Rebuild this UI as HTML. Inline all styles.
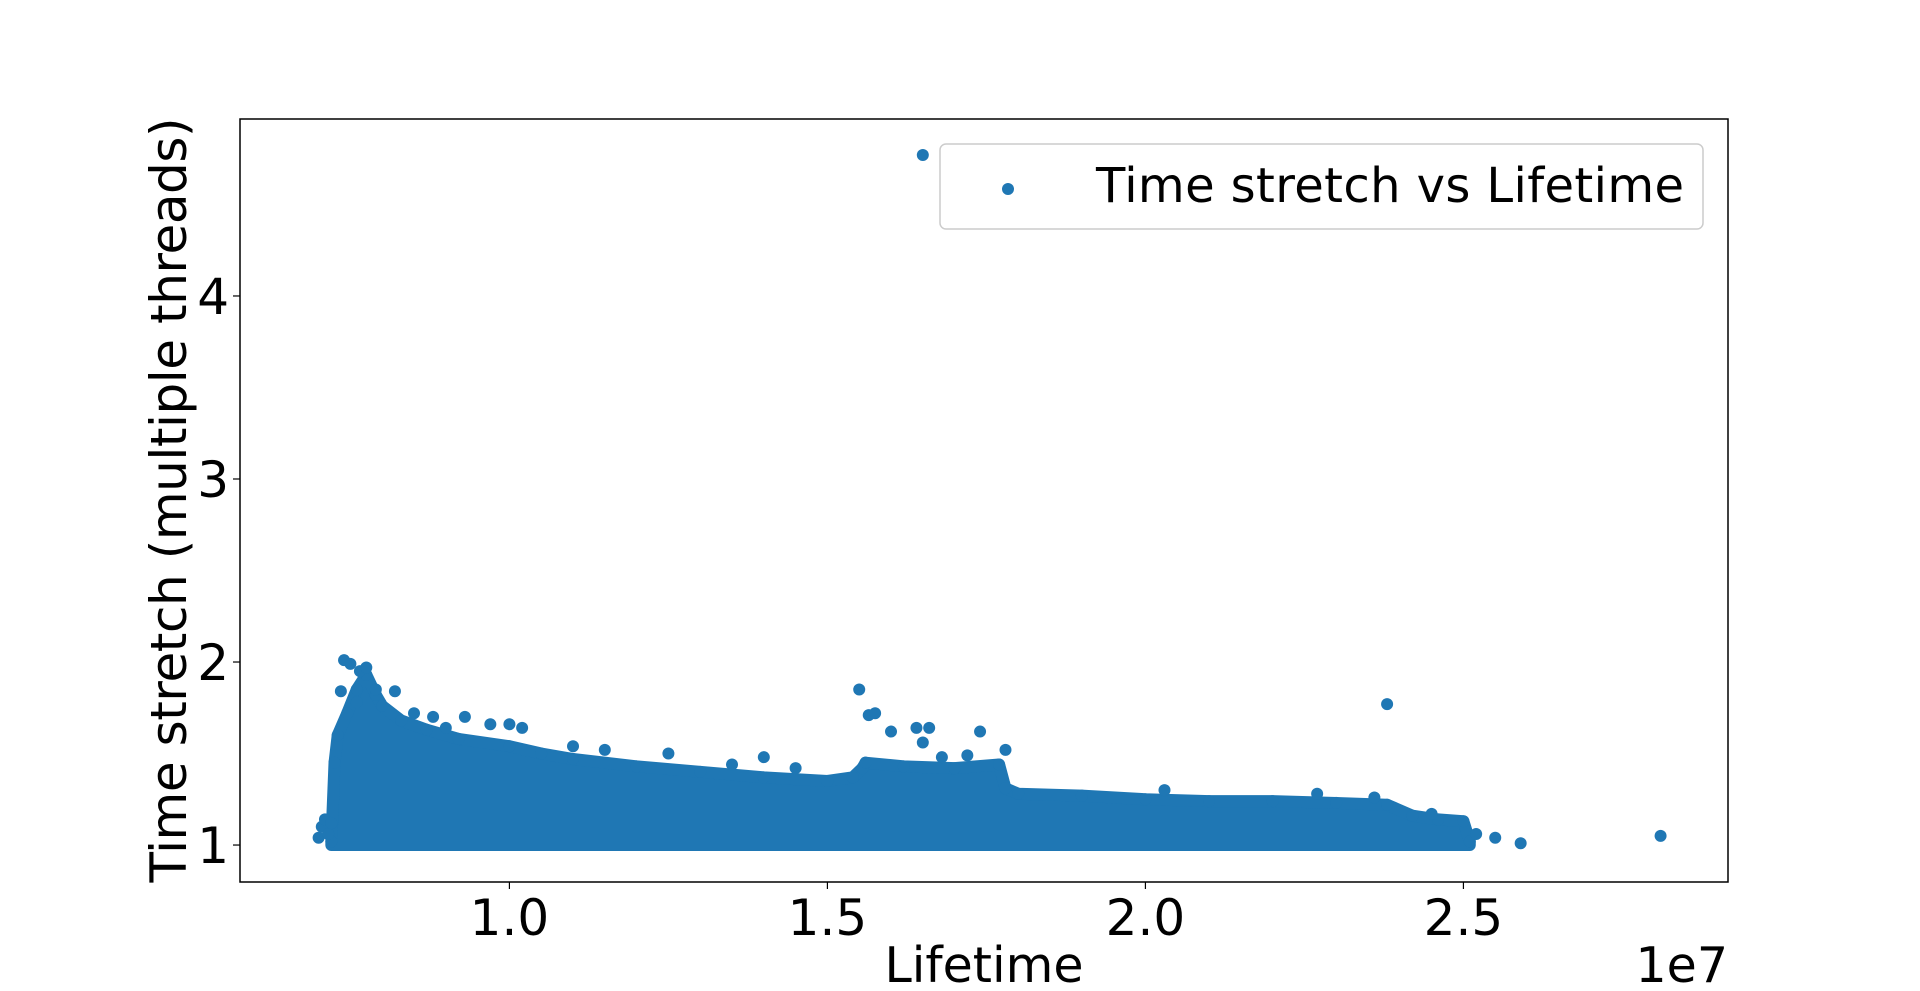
<!DOCTYPE html>
<html><head><meta charset="utf-8"><style>
html,body{margin:0;padding:0;background:#fff}
svg{display:block;font-family:"DejaVu Sans","Liberation Sans",sans-serif}
</style></head><body>
<svg id="chart" width="1920" height="991" viewBox="0 0 1920 991">
<rect width="1920" height="991" fill="#fff"/>
<g id="plot"></g>
<g id="axes"></g>
</svg>
<script>
// dense cloud envelope (x in units of 1e7, top value; bottom is ~1.0)
const envX   = [0.72,0.725,0.73,0.745,0.76,0.775,0.79,0.80,0.83,0.87,0.92,1.00,1.05,1.10,1.20,1.30,1.40,1.50,1.54,1.555,1.56,1.62,1.70,1.77,1.78,1.80,1.90,2.00,2.10,2.20,2.30,2.38,2.42,2.46,2.50,2.51];
const envTop = [1.02,1.45,1.60,1.72,1.85,1.93,1.82,1.76,1.68,1.63,1.58,1.54,1.50,1.47,1.43,1.40,1.37,1.35,1.37,1.42,1.45,1.43,1.42,1.44,1.31,1.28,1.27,1.25,1.24,1.24,1.23,1.22,1.16,1.14,1.13,1.02];
const envBottom = 1.0;
// individual visible points
const ptX = [0.70,0.705,0.71,0.715,0.72,0.74,0.75,0.735,0.765,0.775,0.76,0.79,0.82,0.85,0.88,0.93,0.97,1.00,1.02,1.10,1.25,1.40,1.55,1.565,1.575,1.60,1.64,1.66,1.65,1.74,1.78,1.65,2.38,2.55,2.59,2.81,2.52,2.45,0.90,1.15,1.35,1.45,1.68,1.72,2.03,2.27,2.36];
const ptY = [1.04,1.10,1.14,1.06,1.12,2.01,1.99,1.84,1.95,1.97,1.78,1.85,1.84,1.72,1.70,1.70,1.66,1.66,1.64,1.54,1.50,1.48,1.85,1.71,1.72,1.62,1.64,1.64,4.77,1.62,1.52,1.56,1.77,1.04,1.01,1.05,1.06,1.17,1.64,1.52,1.44,1.42,1.48,1.49,1.30,1.28,1.26];
const xTicks = [1.0,1.5,2.0,2.5];
const xTickLabels = ["1.0","1.5","2.0","2.5"];
const yTicks = [1,2,3,4];
const yTickLabels = ["1","2","3","4"];

const L=240,R=1728,T=119,B=882;
const xMin=0.5764,xMax=2.916,yMin=0.798,yMax=4.967;
const sx=v=>L+(v-xMin)/(xMax-xMin)*(R-L);
const sy=v=>B-(v-yMin)/(yMax-yMin)*(B-T);
const NS="http://www.w3.org/2000/svg";
const plot=document.getElementById('plot'), axes=document.getElementById('axes');
function mk(tag,attrs,parent){const e=document.createElementNS(NS,tag);for(const k in attrs)e.setAttribute(k,attrs[k]);parent.appendChild(e);return e;}
const C="#1f77b4";
let pts=envX.map((x,i)=>sx(x)+","+sy(envTop[i]));
pts.push(sx(envX[envX.length-1])+","+sy(envBottom));
pts.push(sx(envX[0])+","+sy(envBottom));
const poly=mk('polygon',{points:pts.join(' '),fill:C,stroke:C,'stroke-width':12,'stroke-linejoin':'round'},plot);


envX.forEach((x,i)=>{
  const c=mk('circle',{cx:sx(x),cy:sy(envTop[i]),r:6,fill:C},plot);
  
  
});
ptX.forEach((x,i)=>{
  const c=mk('circle',{cx:sx(x),cy:sy(ptY[i]),r:6,fill:C},plot);
  
  
});
const fr=mk('rect',{x:L,y:T,width:R-L,height:B-T,fill:'none',stroke:'#000','stroke-width':1.5},axes);


xTicks.forEach((v,i)=>{
  const t=mk('line',{x1:sx(v),x2:sx(v),y1:B,y2:B+7,stroke:'#000','stroke-width':1.2},axes);
  
  
  const tx=mk('text',{x:sx(v),y:935,'font-size':50,'text-anchor':'middle',fill:'#000'},axes);
  tx.textContent=xTickLabels[i];
  
  
});
yTicks.forEach((v,i)=>{
  const t=mk('line',{x1:L-7,x2:L,y1:sy(v),y2:sy(v),stroke:'#000','stroke-width':1.2},axes);
  
  
  const tx=mk('text',{x:229,y:sy(v)+18,'font-size':50,'text-anchor':'end',fill:'#000'},axes);
  tx.textContent=yTickLabels[i];
  
  
});
</script>
<svg style="position:absolute;left:0;top:0" width="1920" height="991">
<text x="984" y="982" font-size="49" text-anchor="middle" font-family="DejaVu Sans, Liberation Sans, sans-serif">Lifetime</text>
<text x="1728" y="982" font-size="49" text-anchor="end" font-family="DejaVu Sans, Liberation Sans, sans-serif">1e7</text>
<text transform="translate(186,500) rotate(-90)" font-size="50" text-anchor="middle" font-family="DejaVu Sans, Liberation Sans, sans-serif" textLength="765">Time stretch (multiple threads)</text>
<g>
<rect x="940" y="144" width="763" height="85" rx="6" fill="#fff" fill-opacity="0.8" stroke="#ccc" stroke-width="1.5"/>
<circle cx="1008" cy="189" r="6" fill="#1f77b4"/>
<text x="1096" y="202" font-size="48" textLength="588" font-family="DejaVu Sans, Liberation Sans, sans-serif">Time stretch vs Lifetime</text>
</g>
</svg>
</body></html>
